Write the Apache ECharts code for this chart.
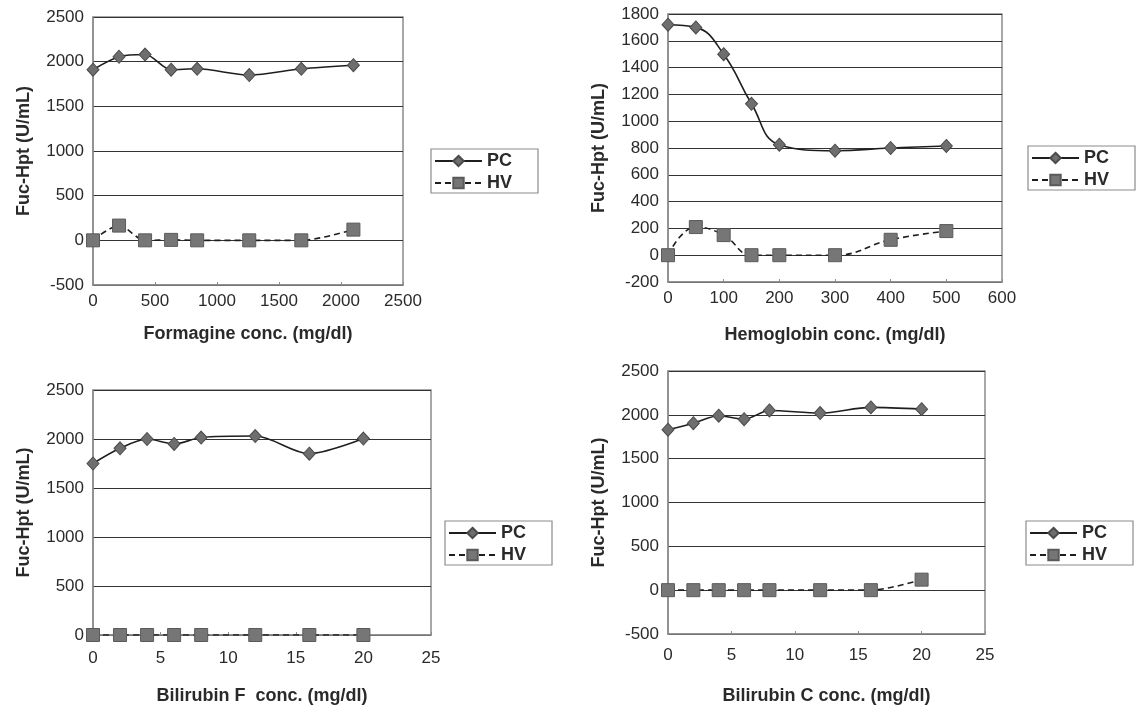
<!doctype html>
<html>
    <head>
        <meta charset="utf-8">
        <title>Fuc-Hpt interference</title>
        <style>
            html, body { margin: 0; padding: 0; background: #fff; }
            #main { width: 1137px; height: 706px; }
        </style>
    </head>
    <body>
        <div id="main"></div>
        <script src="https://cdn.jsdelivr.net/npm/echarts@6/dist/echarts.min.js"></script>
        <script>
            // values
            var formX = [0, 210, 420, 630, 840, 1260, 1680, 2100];
            var formPC = [1910, 2055, 2080, 1910, 1920, 1850, 1920, 1960];
            var formHV = [0, 165, 0, 5, 0, 0, 0, 120];

            var hbX = [0, 50, 100, 150, 200, 300, 400, 500];
            var hbPC = [1720, 1700, 1500, 1130, 825, 780, 800, 815];
            var hbHV = [0, 210, 150, 0, 0, 0, 115, 180];

            var bilX = [0, 2, 4, 6, 8, 12, 16, 20];
            var bilFPC = [1750, 1905, 2000, 1950, 2015, 2030, 1850, 2005];
            var bilFHV = [0, 0, 0, 0, 0, 0, 0, 0];
            var bilCPC = [1830, 1905, 1990, 1950, 2050, 2020, 2085, 2065];
            var bilCHV = [0, 0, 0, 0, 0, 0, 0, 120];

            var xTitles = ['Formagine conc. (mg/dl)', 'Hemoglobin conc. (mg/dl)',
                           'Bilirubin F  conc. (mg/dl)', 'Bilirubin C conc. (mg/dl)'];
            var yTitle = 'Fuc-Hpt (U/mL)';
            var seriesNames = ['PC', 'HV'];

            var FONT = '"Liberation Sans", Arial, sans-serif';
            var TXT = '#2a2a2a';

            function pairs(xs, ys) {
                return xs.map(function (x, i) { return [x, ys[i]]; });
            }
            function plain(v) { return String(v); }

            var panels = [
                { grid: { left: 93, top: 17, width: 310, height: 268 },
                  x: [0, 2500, 500], y: [-500, 2500, 500], xGap: 40, xMargin: 8,
                  pc: pairs(formX, formPC), hv: pairs(formX, formHV),
                  legend: { left: 431, top: 149 }, smooth: 0.3 },
                { grid: { left: 668, top: 14, width: 334, height: 268 },
                  x: [0, 600, 100], y: [-200, 1800, 200], xGap: 44, xMargin: 8,
                  pc: pairs(hbX, hbPC), hv: pairs(hbX, hbHV),
                  legend: { left: 1028, top: 146 }, smooth: 0.45 },
                { grid: { left: 93, top: 390, width: 338, height: 250 },
                  x: [0, 25, 5], y: [0, 2500, 500], xGap: 52, xMargin: 15,
                  pc: pairs(bilX, bilFPC), hv: pairs(bilX, bilFHV),
                  legend: { left: 445, top: 521 }, smooth: 0.3 },
                { grid: { left: 668, top: 371, width: 317, height: 267 },
                  x: [0, 25, 5], y: [-500, 2500, 500], xGap: 53, xMargin: 13,
                  pc: pairs(bilX, bilCPC), hv: pairs(bilX, bilCHV),
                  legend: { left: 1026, top: 521 }, smooth: 0.3 }
            ];

            var option = {
                backgroundColor: '#fff',
                animation: false,
                textStyle: { fontFamily: FONT },
                grid: [], xAxis: [], yAxis: [], series: [], legend: []
            };

            panels.forEach(function (p, i) {
                option.grid.push(Object.assign({
                    show: true, borderColor: '#8c8c8c', borderWidth: 1.5,
                    backgroundColor: 'transparent'
                }, p.grid));

                option.xAxis.push({
                    type: 'value', gridIndex: i,
                    min: p.x[0], max: p.x[1], interval: p.x[2],
                    name: xTitles[i], nameLocation: 'middle', nameGap: p.xGap,
                    nameTextStyle: { fontSize: 18, fontWeight: 'bold', color: TXT, fontFamily: FONT },
                    axisLine: { onZero: false, lineStyle: { color: '#8c8c8c', width: 1.5 } },
                    axisTick: { show: true, inside: true, length: 3, lineStyle: { color: '#8c8c8c' } },
                    axisLabel: { fontSize: 17, color: TXT, margin: p.xMargin, fontFamily: FONT, formatter: plain },
                    splitLine: { show: false }
                });

                option.yAxis.push({
                    type: 'value', gridIndex: i,
                    min: p.y[0], max: p.y[1], interval: p.y[2],
                    name: yTitle, nameLocation: 'middle', nameGap: 60, nameRotate: 90,
                    nameTextStyle: { fontSize: 18, fontWeight: 'bold', color: TXT, fontFamily: FONT },
                    axisLine: { show: true, lineStyle: { color: '#8c8c8c', width: 1.5 } },
                    axisTick: { show: false },
                    axisLabel: { fontSize: 17, color: TXT, margin: 9, fontFamily: FONT, formatter: plain },
                    splitLine: { show: true, lineStyle: { color: '#333', width: 1 } }
                });

                option.series.push({
                    name: 'PC', type: 'line', xAxisIndex: i, yAxisIndex: i,
                    data: p.pc, smooth: p.smooth,
                    symbol: 'diamond', symbolSize: [12, 13],
                    itemStyle: { color: '#6e6e6e', borderColor: '#4a4a4a', borderWidth: 1 },
                    lineStyle: { color: '#1e1e1e', width: 1.6 },
                    z: 3
                });
                option.series.push({
                    name: 'HV', type: 'line', xAxisIndex: i, yAxisIndex: i,
                    data: p.hv, smooth: p.smooth,
                    symbol: 'rect', symbolSize: 13,
                    itemStyle: { color: '#767676', borderColor: '#5a5a5a', borderWidth: 1 },
                    lineStyle: { color: '#1e1e1e', width: 1.6, type: [6, 4] },
                    z: 3
                });

                option.legend.push({
                    data: seriesNames,
                    orient: 'vertical',
                    left: p.legend.left, top: p.legend.top,
                    padding: [3, 26, 1, 3],
                    itemGap: 4,
                    itemWidth: 47, itemHeight: 13,
                    borderColor: '#8c8c8c', borderWidth: 1.2,
                    selectedMode: false,
                    textStyle: { fontSize: 18, fontWeight: 'bold', color: TXT, fontFamily: FONT }
                });
            });

            var chart = echarts.init(document.getElementById('main'));
            chart.setOption(option);
            window.onresize = chart.resize;
        </script>
    </body>
</html>
